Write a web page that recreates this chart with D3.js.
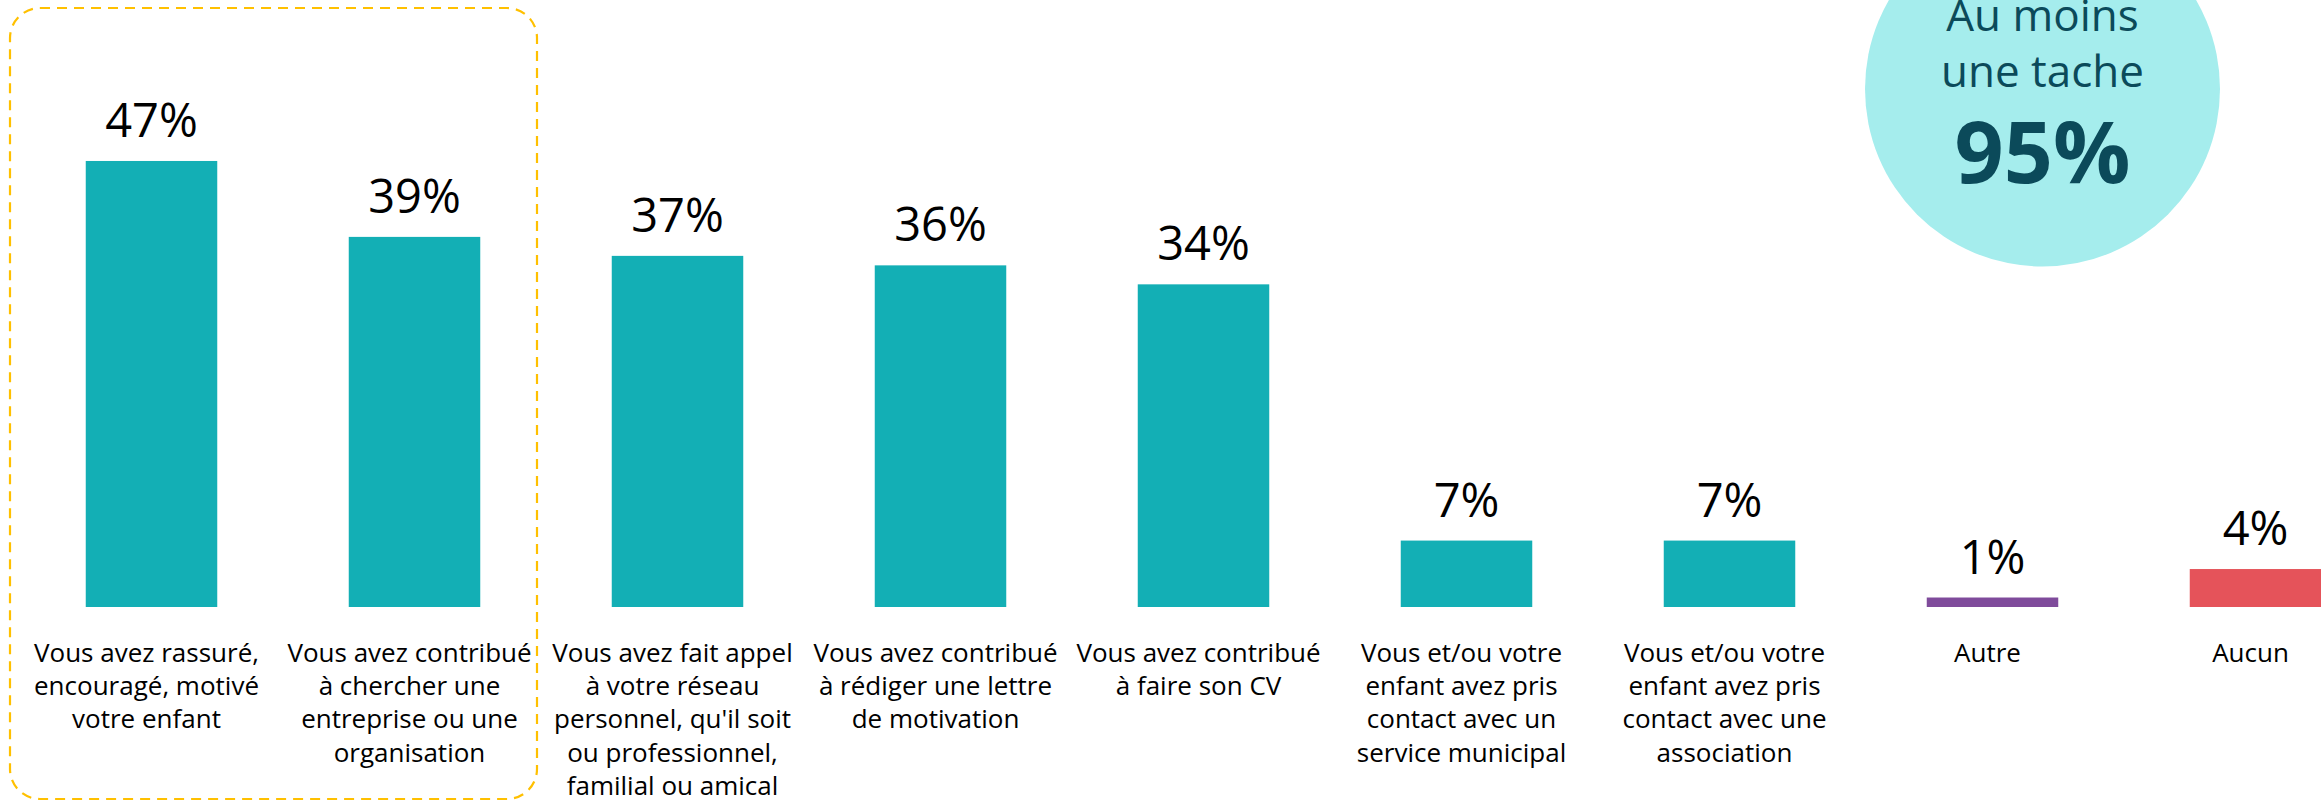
<!DOCTYPE html>
<html>
<head>
<meta charset="utf-8">
<script src="https://cdn.jsdelivr.net/npm/d3@7"></script>
<style>
  html, body { margin: 0; padding: 0; background: #fff; }
  svg { display: block; font-family: "Open Sans", "Noto Sans", sans-serif; }
</style>
</head>
<body>
<svg id="chart" width="2321" height="801"></svg>
<script>
const categories = [
  ["Vous avez rassuré,", "encouragé, motivé", "votre enfant"],
  ["Vous avez contribué", "à chercher une", "entreprise ou une", "organisation"],
  ["Vous avez fait appel", "à votre réseau", "personnel, qu'il soit", "ou professionnel,", "familial ou amical"],
  ["Vous avez contribué", "à rédiger une lettre", "de motivation"],
  ["Vous avez contribué", "à faire son CV"],
  ["Vous et/ou votre", "enfant avez pris", "contact avec un", "service municipal"],
  ["Vous et/ou votre", "enfant avez pris", "contact avec une", "association"],
  ["Autre"],
  ["Aucun"]
];
const values = [47, 39, 37, 36, 34, 7, 7, 1, 4];
const barColors = ["#13AFB5", "#13AFB5", "#13AFB5", "#13AFB5", "#13AFB5", "#13AFB5", "#13AFB5", "#7F4B9B", "#E5535A"];
const summaryLines = ["Au moins", "une tache"];
const summaryValue = "95%";

const svg = d3.select("#chart");
const idx = d3.range(values.length);

const x = d3.scaleBand().domain(idx).range([20, 2387]).paddingInner(0.5).paddingOuter(0.25);
const y = d3.scaleLinear().domain([0, 50]).range([607, 132.5]);

// highlight dashed box
svg.append("rect")
  .attr("x", 10).attr("y", 8)
  .attr("width", 527).attr("height", 791)
  .attr("rx", 30).attr("ry", 30)
  .attr("fill", "none")
  .attr("stroke", "#FFC000")
  .attr("stroke-width", 2.2)
  .attr("stroke-dasharray", "10 7");

// bars
svg.append("g").selectAll("rect").data(idx).join("rect")
  .attr("x", i => x(i))
  .attr("y", i => y(values[i]))
  .attr("width", x.bandwidth())
  .attr("height", i => y(0) - y(values[i]))
  .attr("fill", i => barColors[i]);

// value labels
svg.append("g").selectAll("text").data(idx).join("text")
  .attr("x", i => x(i) + x.bandwidth() / 2)
  .attr("y", i => y(values[i]) - 24)
  .attr("text-anchor", "middle")
  .attr("font-size", 47)
  .attr("fill", "#000")
  .text(i => values[i] + "%");

// category labels
const cat = svg.append("g").selectAll("text").data(idx).join("text")
  .attr("text-anchor", "middle")
  .attr("font-size", 26)
  .attr("fill", "#000");
cat.each(function(i) {
  const t = d3.select(this);
  const cx = x(i) + x.bandwidth() / 2 - 5;
  categories[i].forEach((line, k) => {
    t.append("tspan").attr("x", cx).attr("y", 662 + k * 33.2).text(line);
  });
});

// summary circle
const cx = 2042.5, cy = 89, r = 177.5;
svg.append("circle").attr("cx", cx).attr("cy", cy).attr("r", r).attr("fill", "#A5EDED");
svg.append("g").selectAll("text").data(summaryLines).join("text")
  .attr("x", cx).attr("y", (d, k) => 31 + k * 56)
  .attr("text-anchor", "middle")
  .attr("font-size", 44)
  .attr("fill", "#0B4A5A")
  .text(d => d);
svg.append("text")
  .attr("x", cx).attr("y", 183)
  .attr("text-anchor", "middle")
  .attr("font-size", 86)
  .attr("font-weight", 700)
  .attr("fill", "#0B4A5A")
  .text(summaryValue);
</script>
</body>
</html>
